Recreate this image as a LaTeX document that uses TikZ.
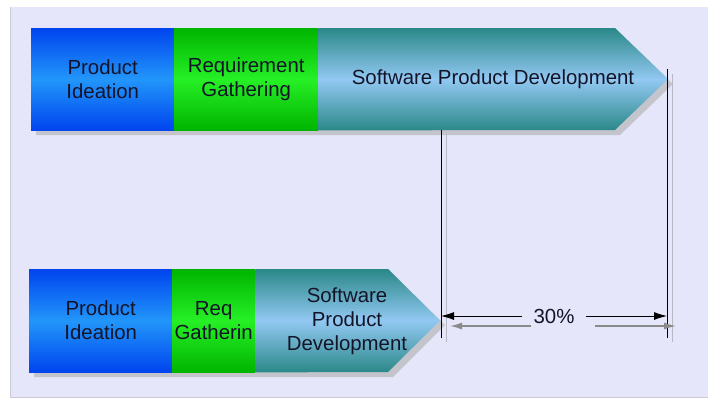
\documentclass[tikz,border=0pt]{standalone}
\usepackage{fontspec}
\setmainfont{Liberation Sans}
\usetikzlibrary{arrows.meta}

\definecolor{lavender}{HTML}{E6E6FA}
\definecolor{frameline}{HTML}{CACAD8}
\definecolor{shadowgray}{HTML}{C4C4CC}
\definecolor{blueA}{HTML}{0044EE}
\definecolor{blueB}{HTML}{2296FA}
\definecolor{greenA}{HTML}{00B400}
\definecolor{greenB}{HTML}{26F026}
\definecolor{tealA}{HTML}{2A8888}
\definecolor{tealB}{HTML}{92C8F2}
\definecolor{txtcol}{HTML}{141428}
\definecolor{dimgray}{HTML}{8A8A8A}
\definecolor{extgray}{HTML}{B8B8C4}

\tikzset{
  phase/.style={inner sep=0pt, anchor=north west, align=center,
    font=\fontsize{20.4}{24}\selectfont, text=txtcol},
  bluephase/.style={phase, top color=blueA, bottom color=blueA, middle color=blueB},
  greenphase/.style={phase, top color=greenA, bottom color=greenA, middle color=greenB},
  tealfill/.style={top color=tealA, bottom color=tealA, middle color=tealB},
  label/.style={align=center, font=\fontsize{20.4}{24}\selectfont, text=txtcol},
  extline/.style={line width=0.8pt},
  dimline/.style={line width=0.9pt, -{Latex[length=13pt,width=8pt]}},
  dimshadow/.style={line width=1.4pt, dimgray, -{Latex[length=12pt,width=7pt]}}
}

\begin{document}
\begin{tikzpicture}[x=1pt,y=-1pt]
\useasboundingbox (0,0) rectangle (708,399);
\fill[white] (0,0) rectangle (708,399);
\fill[lavender] (10,7) rectangle (708,397);
\draw[frameline] (10,7) -- (10,397) -- (708,397);

% shadows
\fill[shadowgray] (36,33) -- (620,33) -- (673,84) -- (620,135) -- (36,135) -- cycle;
\fill[shadowgray] (34,274) -- (393,274) -- (445,325) -- (393,377) -- (34,377) -- cycle;

% top bar
\node[bluephase, minimum width=143pt, minimum height=102pt] (ideaA) at (31,28) {Product\\Ideation};
\node[greenphase, minimum width=144pt, minimum height=102pt] (reqA) at (174,28) {Requirement\\Gathering};
\shade[tealfill] (reqA.north east) -- (615,28) -- (668,79) -- (615,130) -- (reqA.south east) -- cycle;
\node[label] (devA) at (493,79) {Software Product Development};

% bottom bar
\node[bluephase, minimum width=143pt, minimum height=103pt] (ideaB) at (29,269) {Product\\Ideation};
\node[greenphase, minimum width=83pt, minimum height=103pt] (reqB) at (172,269) {Req\\Gatherin};
\shade[tealfill] (reqB.north east) -- (388,269) -- (440,320.5) -- (388,372) -- (reqB.south east) -- cycle;
\node[label] (devB) at (347,321) {Software\\Product\\Development};

% extension lines
\coordinate (extLtop) at (441,130);
\coordinate (extLbot) at (441,338);
\coordinate (extRtop) at (667,69);
\coordinate (extRbot) at (667,338);
\draw[extgray, extline] (446,134) -- (446,342);
\draw[extgray, extline] (672,74) -- (672,342);
\draw[extline] (extLtop) -- (extLbot);
\draw[extline] (extRtop) -- (extRbot);

% dimension
\node[label, inner xsep=11pt, inner ysep=0pt] (pct) at (554,316) {30\%};
\path (pct.west) ++(9,10) coordinate (pctSW);
\path (pct.east) ++(9,10) coordinate (pctSE);
\draw[dimshadow] (pctSW) -- (450,326);
\draw[dimshadow] (pctSE) -- (676,326);
\draw[dimline] (pct.west) -- (441,316);
\draw[dimline] (pct.east) -- (667,316);
\end{tikzpicture}
\end{document}
